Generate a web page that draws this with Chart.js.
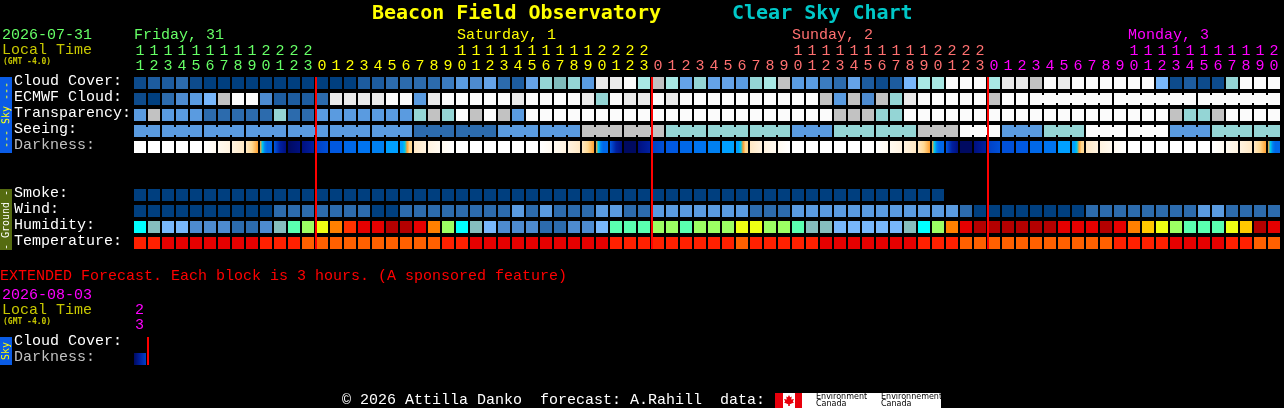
<!DOCTYPE html>
<html><head><meta charset="utf-8">
<script src="https://cdn.jsdelivr.net/npm/chart.js@4"></script>
<style>
html,body{margin:0;padding:0;background:#000;width:1284px;height:408px;overflow:hidden}
#wrap{position:relative;width:1284px;height:408px}
canvas{position:absolute;left:0;top:0}
.t{position:absolute;white-space:pre;font:15px/15px "Liberation Mono",monospace}
.title{font:bold 20px/24px "DejaVu Sans Mono",monospace}
.tiny{font:bold 8px/8px "DejaVu Sans Mono",monospace;color:#c8c800}
.side{position:absolute;left:0;width:12px;overflow:hidden}
.side span{position:absolute;white-space:pre;font:10px/12px "DejaVu Sans Mono",monospace;left:6px;top:50%;transform:translate(-50%,-50%) rotate(-90deg)}
.box{position:absolute}
</style></head><body>
<div id="wrap"><canvas id="c" width="1284" height="408"></canvas></div>
<script>
// ---- hours and row names
const hours=[11,12,13,14,15,16,17,18,19,20,21,22,23,
 0,1,2,3,4,5,6,7,8,9,10,11,12,13,14,15,16,17,18,19,20,21,22,23,
 0,1,2,3,4,5,6,7,8,9,10,11,12,13,14,15,16,17,18,19,20,21,22,23,
 0,1,2,3,4,5,6,7,8,9,10,11,12,13,14,15,16,17,18,19,20];
const dayStartColumns=[13,37,61];
const dayColors=['#66ff66','#ffff00','#ff7070','#ff00ff'];
const rowNames=['Cloud Cover:','ECMWF Cloud:','Transparency:','Seeing:','Darkness:','Smoke:','Wind:','Humidity:','Temperature:','Cloud Cover:','Darkness:'];
const rowSlots=[0,1,2,3,4,7,8,9,10,16.25,17.25];
const rowTextColors=['#fff','#fff','#fff','#fff','#c0c0c0','#fff','#fff','#fff','#fff','#fff','#c0c0c0'];

// ---- palettes
const skyPalette=['#003f7f','#0d4b8c','#1d5c9f','#2c6bad','#3b7cc0','#4d8bd0','#5a9be0','#65a3e8','#78b7fb','#7fbcbc','#94d5d5','#a8e8e4','#c2c2c2','#eaeaea','#fbfbfb'];
const humidityPalette=['#00ffff','#85bebe','#78b7fb','#4d8bd0','#2c6bad','#5affb0','#9cff63','#eeff14','#ffc800','#ff8000','#ff3200','#e60000','#b40000'];
const temperaturePalette=['#e60000','#ff2000','#ff6000'];
const darknessPalette=['#ffffff','#fffaf0','#fff3e0','#ffe8c4','#ffd890','#ffa030','#00c8e8','#00a0ff','#0080f0','#0074f0','#0068e8','#0058e0','#0050d8','#0040c4','#0020a0','#001080','#000a60'];

// ---- series (palette levels)
const cloudCover=[1,2,2,3,1,0,0,0,0,0,0,0,0, 0,0,0,2,2,3,3,3,3,4,6,5,7,3,2,7,10,9,10,6,13,13,14,11, 12,11,7,10,7,7,6,10,11,12,6,6,4,3,7,2,1,2,8,11,11,14,14,14, 11,13,13,12,14,13,14,14,14,14,14,14,8,1,2,1,1,10,14,14,14];
const ecmwfCloud=[1,0,3,5,6,8,12,14,14,5,2,2,2, 3,13,13,13,13,14,14,6,13,14,14,14,14,14,13,14,14,14,14,13,10,14,13,13, 14,13,14,14,14,14,14,14,14,14,14,14,12,6,12,5,12,10,13,14,14,14,14,14, 12,14,14,14,14,14,14,14,14,14,14,14,14,14,14,14,14,14,14,14,14];
const transparency=[6,12,6,6,6,3,3,3,3,3,10,3,3, 6,6,6,6,6,6,6,10,12,10,14,12,14,12,6,14,14,14,14,14,14,14,14,14, 14,14,14,14,14,14,14,14,14,14,14,14,14,12,12,12,10,10,14,14,14,14,14,14, 14,14,14,14,14,14,14,14,14,14,14,14,14,12,10,10,12,14,14,14,14];
const seeing=[6,6,6,6,6,6,6,6,6,6,6,6,6, 6,6,6,6,6,6,6,3,3,3,3,3,3,6,6,6,6,6,6,12,12,12,12,12,12,10,10,10,10,10,10,10,10,10,6,6,6,10,10,10,10,10,10,12,12,12,14,14,14,6,6,6,10,10,10,14,14,14,14,14,14,6,6,6,10,10,10,10,10];
const seeingGroupStarts=[0,2,5,8,11,14,17,20,23,26,29,32,35,38,41,44,47,50,53,56,59,62,65,68,71,74,77,80];
const ecmwfGroupStarts=[64,70,76];
const smoke=[0,0,0,0,0,0,0,0,0,0,0,0,0,0,0,0,0,0,0,0,0,0,0,0,0,0,0,0,0,0,0,0,0,0,0,0,0,0,0,0,0,0,0,0,0,0,0,0,0,0,0,0,0,0,0,0,0,0];
const wind=[0,0,0,0,0,0,0,0,0,0,3,3,3, 3,3,3,3,0,0,3,3,3,3,3,3,3,3,6,3,6,3,3,3,6,6,3,3, 6,6,6,6,6,6,6,3,3,3,6,6,6,6,6,6,6,6,6,6,6,6,3,0, 0,0,0,0,0,0,0,3,3,3,3,3,3,3,3,6,6,3,3,3,3];
const humidity=[0,1,2,2,3,3,3,4,4,3,1,5,6, 7,9,10,11,11,12,12,11,9,6,0,1,2,3,3,3,4,4,3,3,2,5,5,5, 6,6,5,6,6,6,7,7,6,6,5,1,1,2,2,2,2,2,1,0,6,9,11,12, 12,12,12,12,12,11,11,11,12,11,9,8,7,6,5,5,5,7,8,12,11];
const temperature=[1,1,0,0,0,0,0,0,0,1,1,1,2, 2,2,2,2,2,2,2,2,2,1,1,0,0,0,0,0,0,0,0,0,0,1,1,1, 1,1,1,1,1,1,2,1,1,1,1,1,0,0,0,0,0,0,0,1,1,1,2,2, 2,2,2,2,2,2,2,2,2,1,1,1,1,0,0,0,0,1,1,2,2];
const darkness=[[0],[0],[0],[0],[0],[0,1],[1,2],[2,3],[3,4,5],[5,6,8,10,10,10],[11,14,15],[16,15],[15,14],
 [13,12],[11],[10],[9],[8],[7],[7,7,6,5,4,4],[3,2],[2,1],[1,0],[0],[0],[0],[0],[0],[0],[0,1],[1,2],[2,3],[3,4,5],[5,6,8,10,10,10],[11,14,15],[16,16],[15,14],
 [13,12],[11],[10],[9],[8],[7],[7,7,6,5,4,4],[3,2],[2,1],[1,0],[0],[0],[0],[0],[0],[0],[0,1],[1,2],[2,3],[3,4,5],[5,6,8,10,10,10],[11,14,15],[16,16],[15,14],
 [13,12],[12],[11],[10],[9],[7],[7,7,6,5,4,4],[3,2],[2,1],[1,0],[0],[0],[0],[0],[0],[0],[0,1],[1,2],[2,3],[3,4,5],[5,6,8,10,10,10]];
const extendedDarkness=[[16,14,13]];

// ---- build chart
const floatRow=(arr,slot)=>arr.map(v=>[slot-0.375,slot+0.375]);
const barBase={type:'bar',grouped:false,barPercentage:12/14,categoryPercentage:1,borderWidth:0,order:2};
const solid=(arr,slot,pal)=>({...barBase,label:'row'+slot,data:floatRow(arr,slot),backgroundColor:arr.map(v=>pal[v])});
const gradient=(arr,slot)=>({...barBase,label:'row'+slot,data:floatRow(arr,slot),
  backgroundColor:c=>{
    if(c.type!=='data')return '#000';
    const stops=arr[c.dataIndex];
    const px=c.chart.scales.x&&c.chart.scales.x.getPixelForValue(c.dataIndex);
    if(stops.length===1||!Number.isFinite(px))return darknessPalette[stops[0]];
    const g=c.chart.ctx.createLinearGradient(px-6,0,px+6,0);
    stops.forEach((s,i)=>g.addColorStop(i/(stops.length-1),darknessPalette[s]));
    return g;
  }});
const groupIdOf=(i,starts)=>{let k=-1;for(const s of starts)if(i>=s)k=s;return k;};
const bridge=(levels,slot,starts)=>({type:'line',label:'bridge'+slot,order:1,borderWidth:8,borderCapStyle:'butt',pointRadius:0,tension:0,spanGaps:false,
  data:levels.map((v,i)=>i>=starts[0]?slot:null),
  borderColor:'transparent',
  segment:{borderColor:c=>groupIdOf(c.p0DataIndex,starts)===groupIdOf(c.p1DataIndex,starts)?skyPalette[levels[c.p0DataIndex]]:'transparent'}});

const markerPlugin={id:'dayMarkers',afterDatasetsDraw(ch){
  const {ctx,scales:{x,y}}=ch; ctx.save(); ctx.fillStyle='#ff0000';
  const mark=(col,a,b)=>{const px=x.getPixelForValue(col)-6,t=y.getPixelForValue(a),h=y.getPixelForValue(b)-t;ctx.fillRect(px-1,t,2,h);};
  dayStartColumns.forEach(col=>mark(col,-0.375,10.375));
  mark(1,15.875,17.625);
  ctx.restore();
}};

new Chart(document.getElementById('c'),{
  data:{labels:hours.map(h=>h>=10?[String(Math.floor(h/10)),String(h%10)]:['',String(h)]),
    datasets:[
      solid(cloudCover,0,skyPalette),
      solid(ecmwfCloud,1,skyPalette),bridge(ecmwfCloud,1,ecmwfGroupStarts),
      solid(transparency,2,skyPalette),
      solid(seeing,3,skyPalette),bridge(seeing,3,seeingGroupStarts),
      gradient(darkness,4),
      solid(smoke,7,skyPalette),
      solid(wind,8,skyPalette),
      solid(humidity,9,humidityPalette),
      solid(temperature,10,temperaturePalette),
      gradient(extendedDarkness,17.25)
    ]},
  plugins:[markerPlugin],
  options:{responsive:false,animation:false,devicePixelRatio:1,events:[],
    layout:{padding:{left:14,right:3,top:0,bottom:37}},
    plugins:{legend:{display:false},tooltip:{enabled:false},title:{display:false}},
    scales:{
      x:{type:'category',position:'top',offset:true,grid:{display:false,drawTicks:false},border:{display:false},
        afterFit:s=>{s.height=75;},
        ticks:{autoSkip:false,maxRotation:0,minRotation:0,padding:1,
          font:{family:'"Liberation Mono"',size:15,lineHeight:1},
          color:c=>{let d=0;dayStartColumns.forEach(s=>{if(c.index>=s)d++;});return dayColors[d];}}},
      y:{type:'linear',position:'left',reverse:true,min:-0.5,max:18,grid:{display:false,drawTicks:false},border:{display:false},
        afterFit:s=>{s.width=119;},
        afterBuildTicks:s=>{s.ticks=rowSlots.map(v=>({value:v}));},
        ticks:{autoSkip:false,crossAlign:'far',padding:0,
          font:{family:'"Liberation Mono"',size:15,lineHeight:'4px'},
          callback:v=>[rowNames[rowSlots.indexOf(v)],''],
          color:c=>rowTextColors[rowSlots.indexOf(c.tick.value)]}}
    }}
});

// ---- page texts
const wrap=document.getElementById('wrap');
const add=(txt,x,y,col,cls)=>{const e=document.createElement('div');e.className=cls||'t';e.textContent=txt;e.style.left=x+'px';e.style.top=y+'px';if(col)e.style.color=col;wrap.appendChild(e);return e;};
add('Beacon Field Observatory',372,0,'#ffff00','t title');
add('Clear Sky Chart',732,0,'#00c8c8','t title');
add('2026-07-31',2,28,'#66ff66');
add('Local Time',2,43,'#c8c800');
add('(GMT -4.0)',3,58,null,'t tiny');
add('Friday, 31',134,28,'#66ff66');
add('Saturday, 1',457,28,'#ffff00');
add('Sunday, 2',792,28,'#ff7070');
add('Monday, 3',1128,28,'#ff00ff');
add('EXTENDED Forecast. Each block is 3 hours. (A sponsored feature)',0,269,'#ff0000');
add('2026-08-03',2,288,'#ff00ff');
add('Local Time',2,303,'#c8c800');
add('(GMT -4.0)',3,318,null,'t tiny');
add('2',135,303,'#ff00ff');
add('3',135,318,'#ff00ff');
add('\u00a9 2026 Attilla Danko  forecast: A.Rahill  data:',342,393,'#ffffff');
const side=(top,h,bg,txt,col)=>{const d=document.createElement('div');d.className='side';d.style.top=top+'px';d.style.height=h+'px';d.style.background=bg;const s=document.createElement('span');s.textContent=txt;s.style.color=col;d.appendChild(s);wrap.appendChild(d);};
side(77,76,'#0a5ce6','--- Sky ---','#ffff00');
side(189,61,'#556b10','- Ground -','#ffffff');
side(337,28,'#0a5ce6','Sky','#ffff00');
const box=(x,y,w,h,bg,extra)=>{const d=document.createElement('div');d.className='box';d.style.cssText+=`left:${x}px;top:${y}px;width:${w}px;height:${h}px;background:${bg};`+(extra||'');wrap.appendChild(d);};
box(775,393,166,15,'#ffffff');
box(775,393,8,15,'#e8000c');
box(795,393,7,15,'#e8000c');
box(784,395,10,11,'#e8000c','clip-path:polygon(50% 0,62% 20%,78% 14%,72% 42%,100% 36%,88% 60%,100% 68%,58% 84%,58% 100%,42% 100%,42% 84%,0 68%,12% 60%,0 36%,28% 42%,22% 14%,38% 20%);');
const logo=(txt,x,y)=>{const e=add(txt,x,y,'#000000','t');e.style.font='8px/8px "DejaVu Sans",sans-serif';};
logo('Environment',816,393);logo('Canada',816,400);
logo('Environnement',881,393);logo('Canada',881,400);
</script>
</body></html>
